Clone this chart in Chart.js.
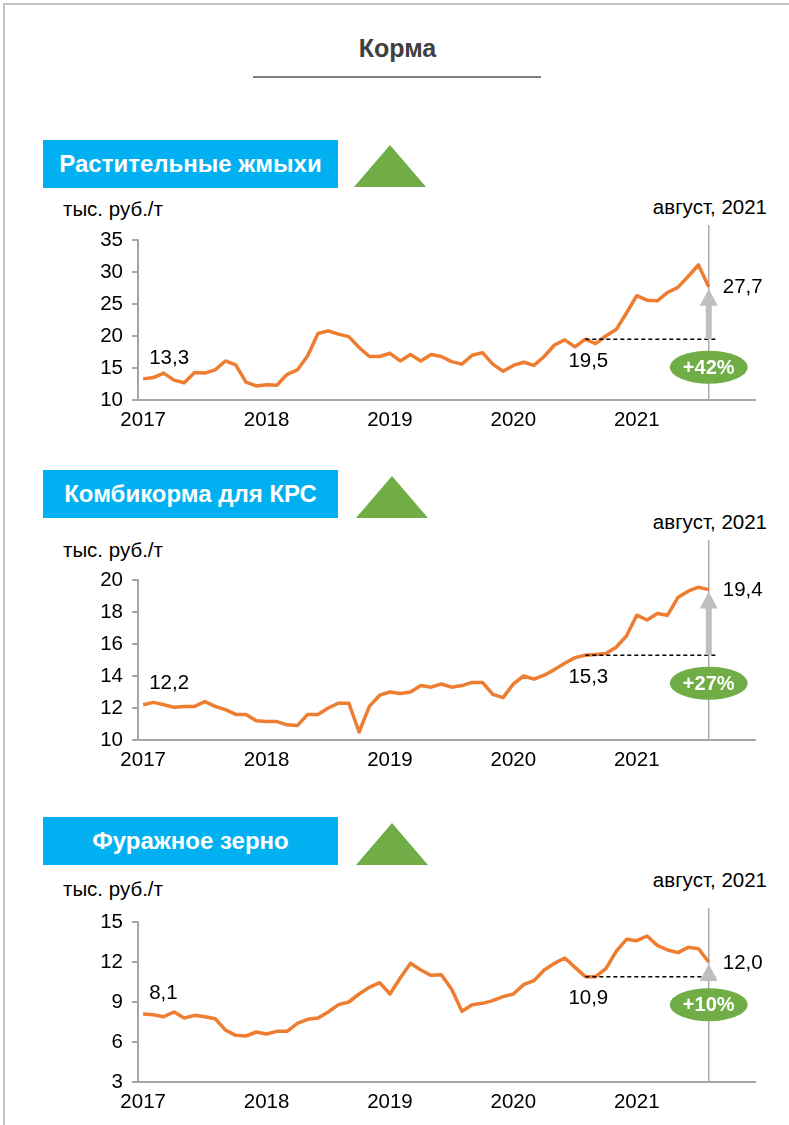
<!DOCTYPE html>
<html lang="ru">
<head>
<meta charset="utf-8">
<script src="https://cdn.jsdelivr.net/npm/chart.js@4/dist/chart.umd.min.js"></script>
<style>
  html, body { margin:0; padding:0; background:#fff; }
  body { width:789px; height:1125px; position:relative; overflow:hidden;
         font-family:"Liberation Sans", Arial, sans-serif; color:#000; }
  .frame { position:absolute; left:3px; top:3px; width:900px; height:1200px;
           border-left:2px solid #c3c3c3; border-top:2px solid #c3c3c3; }
  .title { position:absolute; left:0; width:795px; top:34px; text-align:center;
           font-weight:bold; font-size:25px; color:#404040; }
  .rule { position:absolute; left:253px; width:288px; top:76px; height:2px; background:#7f7f7f; }
  .box { position:absolute; left:43px; width:295px; height:48px; background:#00b0f0; color:#fff;
         font-weight:bold; font-size:24px; line-height:48px; text-align:center; }
  .tri { position:absolute; width:0; height:0; border-left:36px solid transparent;
         border-right:36px solid transparent; border-bottom:42px solid #70ad47; }
  .unit { position:absolute; left:63px; font-size:20.5px; line-height:24px; }
  .date { position:absolute; right:22px; font-size:20.5px; line-height:24px; }
  canvas { position:absolute; left:0; }
</style>
</head>
<body>
<div class="frame"></div>
<div class="title">Корма</div>
<div class="rule"></div>

<div class="box" style="top:140px">Растительные жмыхи</div>
<div class="tri" style="left:354px; top:145px"></div>
<div class="unit" style="top:197px">тыс. руб./т</div>
<div class="date" style="top:195px">август, 2021</div>
<div style="position:absolute; top:180px; left:0; width:789px; height:260px"><canvas id="c1" width="789" height="260"></canvas></div>

<div class="box" style="top:470px">Комбикорма для КРС</div>
<div class="tri" style="left:356px; top:476px"></div>
<div class="unit" style="top:538px">тыс. руб./т</div>
<div class="date" style="top:510px">август, 2021</div>
<div style="position:absolute; top:520px; left:0; width:789px; height:260px"><canvas id="c2" width="789" height="260"></canvas></div>

<div class="box" style="top:817px">Фуражное зерно</div>
<div class="tri" style="left:356px; top:823px"></div>
<div class="unit" style="top:877px">тыс. руб./т</div>
<div class="date" style="top:868px">август, 2021</div>
<div style="position:absolute; top:862px; left:0; width:789px; height:260px"><canvas id="c3" width="789" height="260"></canvas></div>

<script>
// ---- Data (monthly, Jan 2017 – Aug 2021), thousand rub. per tonne ----
const years = ['2017', '2018', '2019', '2020', '2021'];
const baseMonthIndex = 43; // August 2020

const oilcake = [
  13.3, 13.5, 14.2, 13.1, 12.7, 14.3, 14.2, 14.7, 16.1, 15.5, 12.8, 12.2,
  12.4, 12.3, 14.0, 14.7, 16.9, 20.4, 20.8, 20.3, 19.9, 18.2, 16.8, 16.8,
  17.3, 16.1, 17.1, 16.1, 17.1, 16.8, 16.0, 15.6, 17.0, 17.4, 15.6, 14.5,
  15.4, 15.9, 15.4, 16.8, 18.6, 19.4, 18.3, 19.5, 18.8, 20.0, 21.0, 23.6,
  26.3, 25.6, 25.5, 26.8, 27.6, 29.3, 31.1, 27.7
];
const compoundFeed = [
  12.2, 12.35, 12.2, 12.05, 12.1, 12.1, 12.4, 12.1, 11.9, 11.6, 11.6, 11.2,
  11.15, 11.15, 10.95, 10.9, 11.6, 11.6, 12.0, 12.3, 12.3, 10.5, 12.1, 12.8,
  13.0, 12.9, 13.0, 13.4, 13.3, 13.5, 13.3, 13.4, 13.6, 13.6, 12.85, 12.65,
  13.5, 14.0, 13.8, 14.05, 14.4, 14.8, 15.15, 15.3, 15.35, 15.4, 15.8, 16.5,
  17.8, 17.5, 17.9, 17.8, 18.9, 19.3, 19.55, 19.4
];
const feedGrain = [
  8.1, 8.05, 7.9, 8.25, 7.8, 8.0, 7.9, 7.75, 6.9, 6.5, 6.45, 6.75,
  6.6, 6.8, 6.8, 7.4, 7.7, 7.8, 8.25, 8.8, 9.0, 9.6, 10.1, 10.45,
  9.6, 10.8, 11.9, 11.4, 11.0, 11.05, 9.95, 8.3, 8.8, 8.9, 9.1, 9.4,
  9.6, 10.3, 10.6, 11.4, 11.9, 12.3, 11.6, 10.9, 10.9, 11.5, 12.8, 13.7,
  13.6, 13.95, 13.25, 12.9, 12.7, 13.1, 13.0, 12.0
];

// category axis: every month of 2017–2021 (60 slots)
const months = [];
years.forEach(y => { for (let m = 1; m <= 12; m++) months.push(y + '-' + String(m).padStart(2, '0')); });

const FONT = '"Liberation Sans", Arial, sans-serif';
const fmt = v => v.toFixed(1).replace('.', ',');

const annotPlugin = {
  id: 'annot',
  beforeDatasetsDraw(chart, args, o) {
    const { ctx, scales: { x, y } } = chart;
    const xl = x.getPixelForValue(o.values.length - 1);
    ctx.save();
    ctx.strokeStyle = '#a9a9a9';
    ctx.lineWidth = 1.5;
    ctx.beginPath();
    ctx.moveTo(xl, o.lineTop);
    ctx.lineTo(xl, y.bottom);
    ctx.stroke();
    ctx.restore();
  },
  afterDatasetsDraw(chart, args, o) {
    const { ctx, scales: { x, y } } = chart;
    const vals = o.values;
    const li = vals.length - 1, bi = o.baseIndex;
    const xl = x.getPixelForValue(li), yl = y.getPixelForValue(vals[li]);
    const xb = x.getPixelForValue(bi), yb = y.getPixelForValue(vals[bi]);
    const x0 = x.getPixelForValue(0), y0 = y.getPixelForValue(vals[0]);
    ctx.save();
    // dashed base line
    ctx.strokeStyle = '#000';
    ctx.lineWidth = 1.5;
    ctx.setLineDash([4, 3]);
    ctx.beginPath();
    ctx.moveTo(xb, yb);
    ctx.lineTo(xl + 8, yb);
    ctx.stroke();
    ctx.setLineDash([]);
    // arrow
    const tip = yl + 2, headH = 17, headW = 18;
    ctx.fillStyle = '#bfbfbf';
    if (yb > tip + headH) {
      ctx.fillRect(xl - 3, tip + headH - 1, 6, yb - (tip + headH) + 1);
    }
    ctx.beginPath();
    ctx.moveTo(xl, tip);
    ctx.lineTo(xl + headW / 2, tip + headH);
    ctx.lineTo(xl - headW / 2, tip + headH);
    ctx.closePath();
    ctx.fill();
    // ellipse with growth
    const ey = yb + 28;
    ctx.fillStyle = '#70ad47';
    ctx.beginPath();
    ctx.ellipse(xl, ey, 39, 16.5, 0, 0, Math.PI * 2);
    ctx.fill();
    const pct = Math.round((vals[li] / vals[bi] - 1) * 100);
    ctx.fillStyle = '#fff';
    ctx.font = 'bold 20px ' + FONT;
    ctx.textAlign = 'center';
    ctx.textBaseline = 'middle';
    ctx.fillText('+' + pct + '%', xl, ey + 1);
    // value labels
    ctx.fillStyle = '#000';
    ctx.font = '20.5px ' + FONT;
    ctx.textAlign = 'left';
    ctx.fillText(fmt(vals[0]), x0 + 6, y0 - 21);
    ctx.fillText(fmt(vals[li]), xl + 14, yl + 1);
    ctx.textAlign = 'center';
    ctx.fillText(fmt(vals[bi]), xb + 3, yb + 22);
    ctx.restore();
  }
};

function makeChart(id, values, min, max, step, lineTop) {
  const data = values.concat(new Array(months.length - values.length).fill(null));
  new Chart(document.getElementById(id), {
    type: 'line',
    data: {
      labels: months,
      datasets: [{
        data: data,
        borderColor: '#ed7d31',
        borderWidth: 3.5,
        pointRadius: 0,
        tension: 0,
        borderJoinStyle: 'round',
        fill: false
      }]
    },
    options: {
      responsive: false,
      animation: false,
      events: [],
      layout: { padding: { top: 60, right: 34, left: 0, bottom: 0 } },
      plugins: {
        legend: { display: false },
        tooltip: { enabled: false },
        annot: { values: values, baseIndex: baseMonthIndex, lineTop: lineTop }
      },
      scales: {
        x: {
          type: 'category',
          offset: true,
          grid: { display: false, drawTicks: false },
          border: { display: true, color: '#a6a6a6', width: 2 },
          ticks: {
            autoSkip: false, maxRotation: 0, padding: 8,
            color: '#000', font: { family: FONT, size: 20.5 },
            callback: (v, i) => (i % 12 === 0 ? years[i / 12] : '')
          },
          afterFit: s => { s.height = 40; }
        },
        y: {
          min: min, max: max,
          grid: { display: true, drawOnChartArea: false, drawTicks: true, tickLength: 6, color: '#a6a6a6', lineWidth: 2 },
          border: { display: true, color: '#a6a6a6', width: 2 },
          ticks: { stepSize: step, padding: 9, color: '#000', font: { family: FONT, size: 20.5 } },
          afterFit: s => { s.width = 138; }
        }
      }
    },
    plugins: [annotPlugin]
  });
}

makeChart('c1', oilcake, 10, 35, 5, 45);
makeChart('c2', compoundFeed, 10, 20, 2, 20);
makeChart('c3', feedGrain, 3, 15, 3, 46);
</script>
</body>
</html>
